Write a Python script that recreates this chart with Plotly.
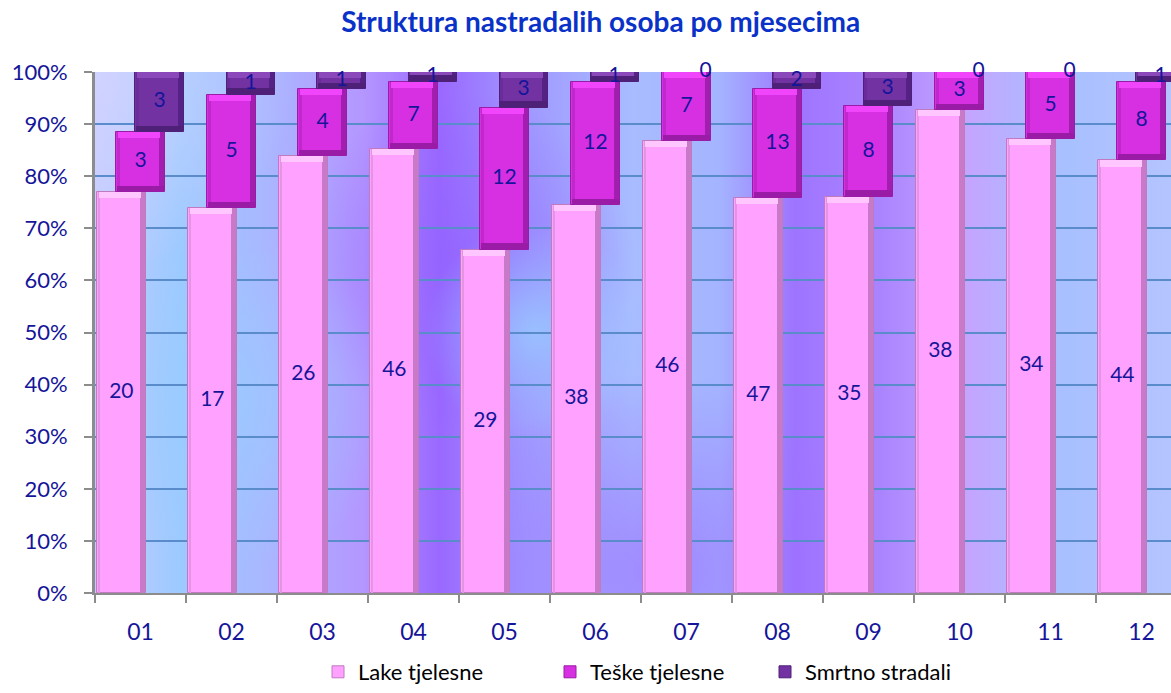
import plotly.graph_objects as go
import numpy as np
import base64

months = ["01", "02", "03", "04", "05", "06", "07", "08", "09", "10", "11", "12"]
lake = [20, 17, 26, 46, 29, 38, 46, 47, 35, 38, 34, 44]
teske = [3, 5, 4, 7, 12, 12, 7, 13, 8, 3, 5, 8]
smrtno = [3, 1, 1, 1, 3, 1, 0, 2, 3, 0, 0, 1]
series_names = ["Lake tjelesne", "Teške tjelesne", "Smrtno stradali"]
y_ticks = [0, 0.1, 0.2, 0.3, 0.4, 0.5, 0.6, 0.7, 0.8, 0.9, 1.0]

vals = np.array([lake, teske, smrtno], dtype=float)
tot = vals.sum(axis=0)
pct = vals / tot
bases = np.vstack([np.zeros(12), np.cumsum(pct, axis=0)[:-1]])
idx = np.arange(12)

shifts = [-0.21, 0.0, 0.21]
W = 0.53
main_col = ["#FFA2FF", "#D630E2", "#7232A2"]
line_col = ["#C07AC0", "#9A1CA6", "#4E2078"]
left_col = ["#E394E3", "#C028CC", "#6A2C98"]
right_col = ["#C879C8", "#A21EAE", "#542284"]
top_col = ["#FFC6FF", "#F045FA", "#8A48BA"]
label_col = "#15159A"
FONT = "Lato, Open Sans, sans-serif"

# background wall: gradients drawn as an SVG image
svg = """<svg xmlns='http://www.w3.org/2000/svg' width='1076' height='521' viewBox='0 0 1076 521' preserveAspectRatio='none'>
<defs>
<linearGradient id='lin' x1='0' y1='0' x2='1' y2='0'>
<stop offset='0' stop-color='#C4CCFF'/>
<stop offset='0.08' stop-color='#9CCAFF'/>
<stop offset='0.16' stop-color='#AAB6FF'/>
<stop offset='0.25' stop-color='#B496FF'/>
<stop offset='0.32' stop-color='#9A68FF'/>
<stop offset='0.40' stop-color='#A098FF'/>
<stop offset='0.50' stop-color='#A8BCFF'/>
<stop offset='0.58' stop-color='#A4B4FF'/>
<stop offset='0.65' stop-color='#9E74FF'/>
<stop offset='0.73' stop-color='#AA84FF'/>
<stop offset='0.81' stop-color='#C4A4FF'/>
<stop offset='0.90' stop-color='#A8C0FF'/>
<stop offset='1' stop-color='#B4C4FF'/>
</linearGradient>
<radialGradient id='r1' gradientUnits='userSpaceOnUse' cx='370' cy='190' r='170'>
<stop offset='0' stop-color='#9060FF' stop-opacity='0.6'/>
<stop offset='1' stop-color='#9060FF' stop-opacity='0'/>
</radialGradient>
<radialGradient id='r2' gradientUnits='userSpaceOnUse' cx='560' cy='500' r='200'>
<stop offset='0' stop-color='#9A66FF' stop-opacity='0.6'/>
<stop offset='1' stop-color='#9A66FF' stop-opacity='0'/>
</radialGradient>
<radialGradient id='r3' gradientUnits='userSpaceOnUse' cx='440' cy='260' r='110'>
<stop offset='0' stop-color='#99CCFF' stop-opacity='0.8'/>
<stop offset='1' stop-color='#99CCFF' stop-opacity='0'/>
</radialGradient>
<radialGradient id='r4' gradientUnits='userSpaceOnUse' cx='130' cy='330' r='170'>
<stop offset='0' stop-color='#99CCFF' stop-opacity='0.7'/>
<stop offset='1' stop-color='#99CCFF' stop-opacity='0'/>
</radialGradient>
<radialGradient id='r5' gradientUnits='userSpaceOnUse' cx='0' cy='0' r='200'>
<stop offset='0' stop-color='#D4D4FF' stop-opacity='0.8'/>
<stop offset='1' stop-color='#D4D4FF' stop-opacity='0'/>
</radialGradient>
</defs>
<rect width='1076' height='521' fill='url(#lin)'/>
<rect width='1076' height='521' fill='url(#r1)'/>
<rect width='1076' height='521' fill='url(#r2)'/>
<rect width='1076' height='521' fill='url(#r3)'/>
<rect width='1076' height='521' fill='url(#r4)'/>
<rect width='1076' height='521' fill='url(#r5)'/>
</svg>"""
bg_src = "data:image/svg+xml;base64," + base64.b64encode(svg.encode()).decode()

legend_ids = ["legend", "legend2", "legend3"]

fig = go.Figure()

for s in range(3):
    x = idx + shifts[s]
    fig.add_trace(go.Bar(
        x=x, y=pct[s], base=bases[s], width=W, name=series_names[s],
        legend=legend_ids[s],
        marker=dict(color=main_col[s], line=dict(color=line_col[s], width=1)),
        hoverinfo="skip"))
    # right darker edge
    fig.add_trace(go.Bar(
        x=x + W / 2 - 0.035, y=pct[s], base=bases[s], width=0.06,
        marker=dict(color=right_col[s], line=dict(width=0)),
        showlegend=False, hoverinfo="skip"))
    # left edge
    fig.add_trace(go.Bar(
        x=x - W / 2 + 0.02, y=pct[s], base=bases[s], width=0.03,
        marker=dict(color=left_col[s], line=dict(width=0)),
        showlegend=False, hoverinfo="skip"))
    # top highlight
    th = np.minimum(0.012, pct[s])
    fig.add_trace(go.Bar(
        x=x - 0.02, y=th, base=bases[s] + pct[s] - th, width=W - 0.07,
        marker=dict(color=top_col[s], line=dict(width=0)),
        showlegend=False, hoverinfo="skip"))
    # bottom dark edge for the upper series
    if s > 0:
        bh = np.minimum(0.012, pct[s])
        fig.add_trace(go.Bar(
            x=x, y=bh, base=bases[s], width=W - 0.01,
            marker=dict(color=line_col[s], line=dict(width=0)),
            showlegend=False, hoverinfo="skip"))

for s in range(3):
    x = idx + shifts[s]
    fig.add_trace(go.Scatter(
        x=x, y=bases[s] + pct[s] / 2, mode="text",
        text=[str(int(v)) for v in vals[s]],
        textfont=dict(family=FONT, size=21, color=label_col),
        showlegend=False, hoverinfo="skip", cliponaxis=False))

leg_common = dict(orientation="h", xanchor="left", yref="container", y=-0.013,
                  yanchor="bottom",
                  font=dict(family=FONT, size=22, color="#000000"),
                  itemwidth=30, bgcolor="rgba(0,0,0,0)")
fig.update_layout(
    width=1171, height=693,
    margin=dict(l=95, r=0, t=72, b=100, autoexpand=False),
    paper_bgcolor="white", plot_bgcolor="rgba(0,0,0,0)",
    barmode="overlay", bargap=0,
    images=[dict(source=bg_src, xref="paper", yref="paper", x=0, y=1,
                 sizex=1, sizey=1, xanchor="left", yanchor="top",
                 sizing="stretch", layer="below")],
    title=dict(text="<b>Struktura nastradalih osoba po mjesecima</b>",
               x=0.513, xanchor="center", y=0.968, yanchor="middle",
               font=dict(family=FONT, size=28, color="#0A32C8")),
    legend=dict(x=(318 - 95) / 1076, **leg_common),
    legend2=dict(x=(550 - 95) / 1076, **leg_common),
    legend3=dict(x=(765 - 95) / 1076, **leg_common),
    showlegend=True,
)
fig.update_xaxes(
    range=[-0.5, -0.5 + 1076 / 91], tickmode="array", tickvals=idx, ticktext=months,
    ticks="", showgrid=False, zeroline=False, automargin=False,
    showline=True, linecolor="#8C8C8C", linewidth=2, ticklabelstandoff=17,
    tickfont=dict(family=FONT, size=23, color=label_col),
    minor=dict(tickmode="array", tickvals=list(idx - 0.5) + [11.5], ticks="outside",
               ticklen=8, tickcolor="#8C8C8C", tickwidth=2, showgrid=False),
    fixedrange=True)
fig.update_yaxes(
    range=[0, 1], tickmode="array", tickvals=y_ticks, tickformat=".0%",
    ticks="outside", ticklen=8, tickcolor="#8C8C8C", tickwidth=2,
    showgrid=True, gridcolor="#5A8CCC", gridwidth=2, zeroline=False, automargin=False,
    showline=True, linecolor="#8C8C8C", linewidth=3, ticklabelstandoff=12,
    tickfont=dict(family=FONT, size=22, color=label_col),
    fixedrange=True)

fig.write_html("out.html", config={"displayModeBar": False},
               post_script="document.body.style.margin='0';")
